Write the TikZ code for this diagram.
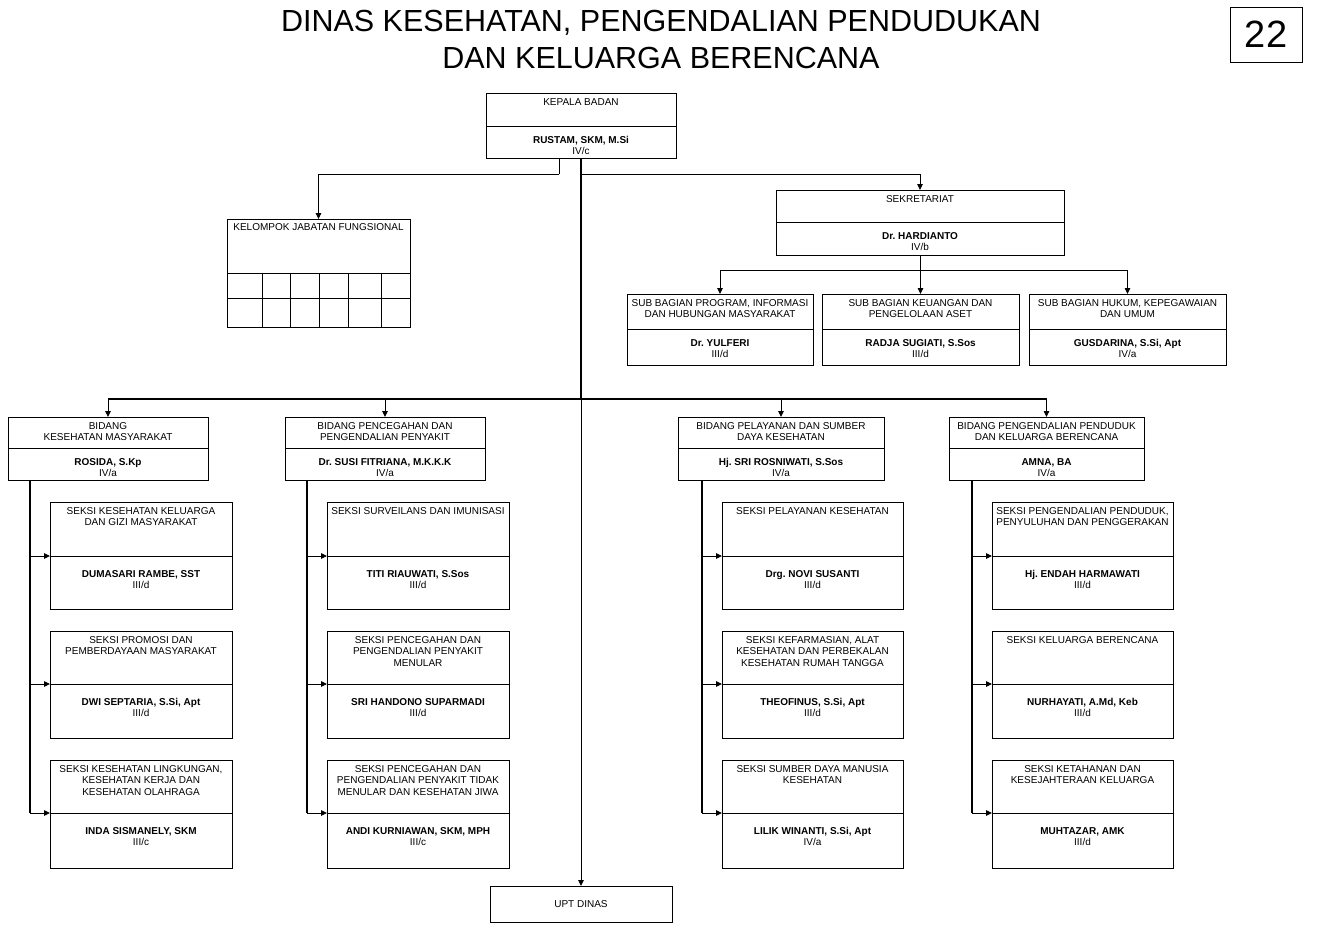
\documentclass[tikz,border=0pt]{standalone}
\usepackage{fontspec}
\setmainfont{Liberation Sans}
\usetikzlibrary{arrows.meta}
\frenchspacing
\tikzset{
  box/.style={draw, line width=0.9pt, inner sep=0pt, outer sep=0pt, rectangle, fill=white},
  divline/.style={line width=0.9pt},
  toptxt/.style={anchor=north, inner sep=0pt, align=center, font=\fontsize{10}{11.8}\selectfont},
  nametxt/.style={anchor=north, inner sep=0pt, align=center, font=\fontsize{10}{11.4}\selectfont},
  conn/.style={line width=0.9pt},
  arr/.style={conn, -{Triangle[length=6pt,width=5.5pt]}},
  trunk/.style={line width=2.4pt},
  hbar/.style={line width=1.4pt},
  spine/.style={line width=1.2pt},
}
\def\topoff{5}
\def\nameoff{10}
% #1 name #2 x1 #3 y1 #4 x2 #5 y2 #6 ydiv #7 top text #8 name #9 grade
\newcommand\obox[9]{%
  \node[box, minimum width=#4pt-#2pt, minimum height=#5pt-#3pt] (#1) at ({(#2+#4)/2},{(#3+#5)/2}) {};
  \coordinate (#1-dl) at (#2,#6);
  \coordinate (#1-dr) at (#4,#6);
  \draw[divline] (#1-dl) -- (#1-dr);
  \node[toptxt] (#1-t) at ({(#2+#4)/2},{#3+\topoff}) {#7};
  \node[nametxt] (#1-n) at ({(#2+#4)/2},{#6+\nameoff}) {\textbf{#8}\\#9};
}
\begin{document}
\begin{tikzpicture}[x=1pt, y=-1pt]
\useasboundingbox (0,0) rectangle (1318,926);
\fill[white] (0,0) rectangle (1318,926);

% title
\node[anchor=north, inner sep=0pt, align=center, font=\fontsize{30.5}{37}\selectfont] (title) at (661,10)
  {DINAS KESEHATAN, PENGENDALIAN PENDUDUKAN\\DAN KELUARGA BERENCANA};
\node[box, minimum width=72pt, minimum height=55pt, font=\fontsize{38}{40}\selectfont] (page) at (1266,34.5) {22};

% top level
\obox{kep}{486}{93}{676}{158}{126}{KEPALA BADAN}{RUSTAM, SKM, M.Si}{IV/c}
\obox{sek}{776}{190}{1064}{255}{222}{SEKRETARIAT}{Dr. HARDIANTO}{IV/b}

% kelompok jabatan fungsional
\node[box, minimum width=183pt, minimum height=108pt] (kjf) at (318.5,273) {};
\node[toptxt] (kjf-t) at (318.5,223) {KELOMPOK JABATAN FUNGSIONAL};
\draw[divline] (kjf.west |- 0,273) -- (kjf.east |- 0,273);
\draw[divline] (kjf.west |- 0,298) -- (kjf.east |- 0,298);
\foreach \gx in {262,290,319,348,381} {
  \draw[divline] (kjf.south -| \gx,0) -- (\gx,273);
}

% sub bagian
\obox{sb1}{627}{294}{813}{365}{329}{SUB BAGIAN PROGRAM, INFORMASI\\DAN HUBUNGAN MASYARAKAT}{Dr. YULFERI}{III/d}
\obox{sb2}{822}{294}{1019}{365}{329}{SUB BAGIAN KEUANGAN DAN\\PENGELOLAAN ASET}{RADJA SUGIATI, S.Sos}{III/d}
\obox{sb3}{1029}{294}{1226}{365}{329}{SUB BAGIAN HUKUM, KEPEGAWAIAN\\DAN UMUM}{GUSDARINA, S.Si, Apt}{IV/a}

% bidang
\obox{b1}{8}{417}{208}{480}{448}{BIDANG\\KESEHATAN MASYARAKAT}{ROSIDA, S.Kp}{IV/a}
\obox{b2}{285}{417}{485}{480}{448}{BIDANG PENCEGAHAN DAN\\PENGENDALIAN PENYAKIT}{Dr. SUSI FITRIANA, M.K.K.K}{IV/a}
\obox{b3}{678}{417}{884}{480}{448}{BIDANG PELAYANAN DAN SUMBER\\DAYA KESEHATAN}{Hj. SRI ROSNIWATI, S.Sos}{IV/a}
\obox{b4}{949}{417}{1144}{480}{448}{BIDANG PENGENDALIAN PENDUDUK\\DAN KELUARGA BERENCANA}{AMNA, BA}{IV/a}

% seksi
\def\nameoff{14}
\obox{s11}{50}{502}{232}{609}{556}{SEKSI KESEHATAN KELUARGA\\DAN GIZI MASYARAKAT}{DUMASARI RAMBE, SST}{III/d}
\obox{s12}{50}{631}{232}{738}{684}{SEKSI PROMOSI DAN\\PEMBERDAYAAN MASYARAKAT}{DWI SEPTARIA, S.Si, Apt}{III/d}
\obox{s13}{50}{760}{232}{868}{813}{SEKSI KESEHATAN LINGKUNGAN,\\KESEHATAN KERJA DAN\\KESEHATAN OLAHRAGA}{INDA SISMANELY, SKM}{III/c}

\obox{s21}{327}{502}{509}{609}{556}{SEKSI SURVEILANS DAN IMUNISASI}{TITI RIAUWATI, S.Sos}{III/d}
\obox{s22}{327}{631}{509}{738}{684}{SEKSI PENCEGAHAN DAN\\PENGENDALIAN PENYAKIT\\MENULAR}{SRI HANDONO SUPARMADI}{III/d}
\obox{s23}{327}{760}{509}{868}{813}{SEKSI PENCEGAHAN DAN\\PENGENDALIAN PENYAKIT TIDAK\\MENULAR DAN KESEHATAN JIWA}{ANDI KURNIAWAN, SKM, MPH}{III/c}

\obox{s31}{722}{502}{903}{609}{556}{SEKSI PELAYANAN KESEHATAN}{Drg. NOVI SUSANTI}{III/d}
\obox{s32}{722}{631}{903}{738}{684}{SEKSI KEFARMASIAN, ALAT\\KESEHATAN DAN PERBEKALAN\\KESEHATAN RUMAH TANGGA}{THEOFINUS, S.Si, Apt}{III/d}
\obox{s33}{722}{760}{903}{868}{813}{SEKSI SUMBER DAYA MANUSIA\\KESEHATAN}{LILIK WINANTI, S.Si, Apt}{IV/a}

\obox{s41}{992}{502}{1173}{609}{556}{SEKSI PENGENDALIAN PENDUDUK,\\PENYULUHAN DAN PENGGERAKAN}{Hj. ENDAH HARMAWATI}{III/d}
\obox{s42}{992}{631}{1173}{738}{684}{SEKSI KELUARGA BERENCANA}{NURHAYATI, A.Md, Keb}{III/d}
\obox{s43}{992}{760}{1173}{868}{813}{SEKSI KETAHANAN DAN\\KESEJAHTERAAN KELUARGA}{MUHTAZAR, AMK}{III/d}

% UPT
\node[box, minimum width=182pt, minimum height=36pt, font=\fontsize{10}{12}\selectfont] (upt) at (581,904) {UPT DINAS};

% connectors
\coordinate (kepL) at (559,158);
\coordinate (hub) at (581,399);
\draw[conn] (kepL) -- ++(0,16) coordinate (kepLb);
\draw[arr] (kepLb) -| (kjf.north);
\draw[arr] (kep.south |- kepLb) -| (sek.north);
\draw[trunk] (kep.south) -- (hub);
\draw[arr] (hub) -- (upt.north);

\coordinate (sekb) at (920,270);
\draw[conn] (sek.south) -- (sekb);
\draw[conn] (sb1.north |- sekb) -- (sb3.north |- sekb);
\foreach \n in {sb1,sb2,sb3} \draw[arr] (\n.north |- sekb) -- (\n.north);

\draw[hbar] (b1.north |- hub) -- (b4.north |- hub);
\foreach \n in {b1,b2,b3,b4} \draw[arr] (\n.north |- hub) -- (\n.north);

% spines
\coordinate (sp1) at (30,480);
\coordinate (sp2) at (307,480);
\coordinate (sp3) at (702,480);
\coordinate (sp4) at (972,480);
\foreach \c in {1,2,3,4} {
  \draw[spine] (sp\c) -- (sp\c |- s\c3-dl);
  \foreach \r in {1,2,3} \draw[arr] (sp\c |- s\c\r-dl) -- (s\c\r-dl);
}
\end{tikzpicture}
\end{document}
